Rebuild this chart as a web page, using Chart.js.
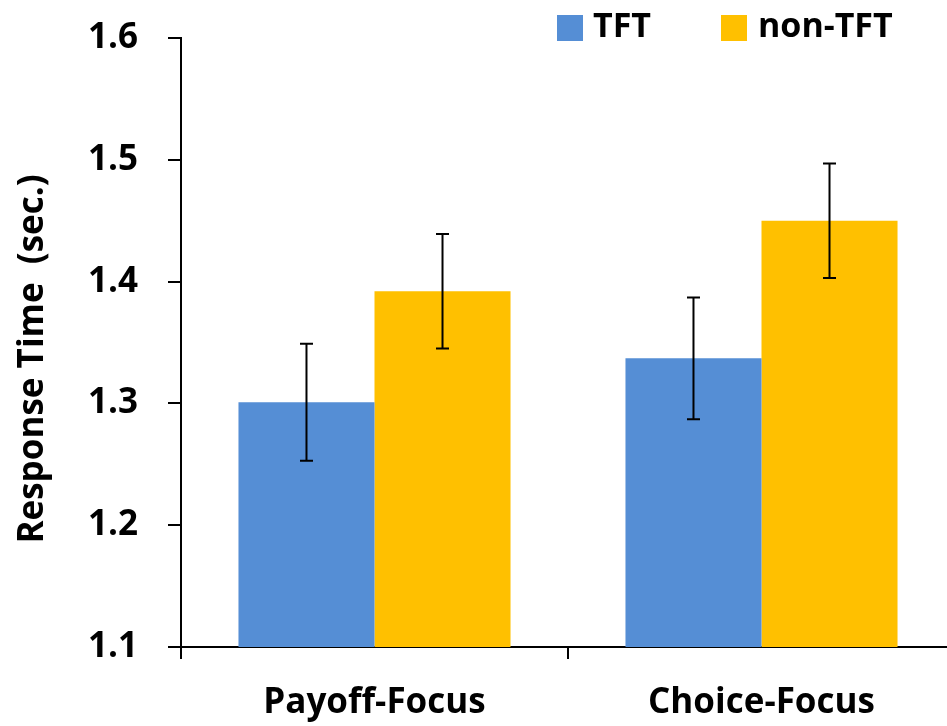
<!DOCTYPE html>
<html>
<head>
<meta charset="utf-8">
<script src="https://cdn.jsdelivr.net/npm/chart.js@4"></script>
<style>
  html, body { margin: 0; padding: 0; background: #ffffff; overflow: hidden; }
  #wrap { width: 947px; height: 726px; overflow: hidden; position: relative; }
  canvas { display: block; }
</style>
</head>
<body>
<div id="wrap"><canvas id="chart" width="960" height="726"></canvas></div>
<script>
// Response time by focus condition and player type
const categories = ['Payoff-Focus', 'Choice-Focus'];
const seriesNames = ['TFT', 'non-TFT'];
const tftMeans = [1.301, 1.337];
const nonTftMeans = [1.392, 1.450];
const tftErrors = [0.048, 0.050];
const nonTftErrors = [0.047, 0.047];
const yTicks = [1.1, 1.2, 1.3, 1.4, 1.5, 1.6];
const yTitle = 'Response Time  (sec.)';

const seriesColors = ['#558ED5', '#FFC000'];
const FONT = '"Open Sans", Lato, sans-serif';

// Draws the ± error whiskers on each bar using the y scale
const errorBars = {
  id: 'errorBars',
  afterDatasetsDraw(chart) {
    const ctx = chart.ctx;
    const y = chart.scales.y;
    ctx.save();
    ctx.strokeStyle = '#000000';
    ctx.lineWidth = 2;
    chart.data.datasets.forEach((ds, i) => {
      const meta = chart.getDatasetMeta(i);
      meta.data.forEach((bar, j) => {
        const v = ds.data[j];
        const e = ds.errors[j];
        const yTop = y.getPixelForValue(v + e);
        const yBot = y.getPixelForValue(v - e);
        const x = bar.x;
        const cap = 6.5;
        ctx.beginPath();
        ctx.moveTo(x, yTop); ctx.lineTo(x, yBot);
        ctx.moveTo(x - cap, yTop); ctx.lineTo(x + cap, yTop);
        ctx.moveTo(x - cap, yBot); ctx.lineTo(x + cap, yBot);
        ctx.stroke();
      });
    });
    ctx.restore();
  }
};

// Legend swatches along the top and the rotated y-axis title
const decorations = {
  id: 'decorations',
  afterDraw(chart) {
    const ctx = chart.ctx;
    ctx.save();
    ctx.font = 'bold 34px ' + FONT;
    ctx.textBaseline = 'alphabetic';
    ctx.textAlign = 'left';
    const items = [
      { x: 557, textX: 593 },
      { x: 721, textX: 758 }
    ];
    chart.data.datasets.forEach((ds, i) => {
      const it = items[i];
      ctx.fillStyle = ds.backgroundColor;
      ctx.fillRect(it.x, 15, 26, 26);
      ctx.fillStyle = '#000000';
      ctx.fillText(ds.label, it.textX, 37);
    });

    ctx.translate(33, 359);
    ctx.rotate(-Math.PI / 2);
    ctx.textAlign = 'center';
    ctx.textBaseline = 'middle';
    ctx.font = 'bold 35px ' + FONT;
    ctx.fillStyle = '#000000';
    ctx.fillText(yTitle, 0, 0);
    ctx.restore();
  }
};

new Chart(document.getElementById('chart'), {
  type: 'bar',
  data: {
    labels: categories,
    datasets: [
      { label: seriesNames[0], data: tftMeans, errors: tftErrors,
        backgroundColor: seriesColors[0], borderWidth: 0 },
      { label: seriesNames[1], data: nonTftMeans, errors: nonTftErrors,
        backgroundColor: seriesColors[1], borderWidth: 0 }
    ]
  },
  options: {
    responsive: false,
    animation: false,
    events: [],
    layout: { padding: { top: 38, right: 5, bottom: 0, left: 0 } },
    datasets: { bar: { categoryPercentage: 0.703, barPercentage: 1.0 } },
    plugins: { legend: { display: false }, tooltip: { enabled: false } },
    scales: {
      x: {
        offset: true,
        grid: { display: true, offset: true, drawOnChartArea: false, drawTicks: true,
                tickLength: 12, color: '#000000', lineWidth: 2 },
        border: { display: true, color: '#000000', width: 2 },
        ticks: { color: '#000000', padding: 23, font: { family: FONT, size: 35, weight: 'bold' } },
        afterFit(scale) { scale.height = 79; scale.paddingLeft = 0; scale.paddingRight = 0; }
      },
      y: {
        min: 1.1,
        max: 1.6,
        afterBuildTicks(scale) { scale.ticks = yTicks.map(v => ({ value: v })); },
        grid: { display: true, drawOnChartArea: false, drawTicks: true,
                tickLength: 13, color: '#000000', lineWidth: 2 },
        border: { display: true, color: '#000000', width: 2 },
        ticks: { color: '#000000', padding: 30,
                 font: { family: FONT, size: 35, weight: 'bold' },
                 callback: v => Number(v).toFixed(1) },
        afterFit(scale) { scale.width = 181; scale.paddingTop = 0; scale.paddingBottom = 0; }
      }
    }
  },
  plugins: [errorBars, decorations]
});
</script>
</body>
</html>
